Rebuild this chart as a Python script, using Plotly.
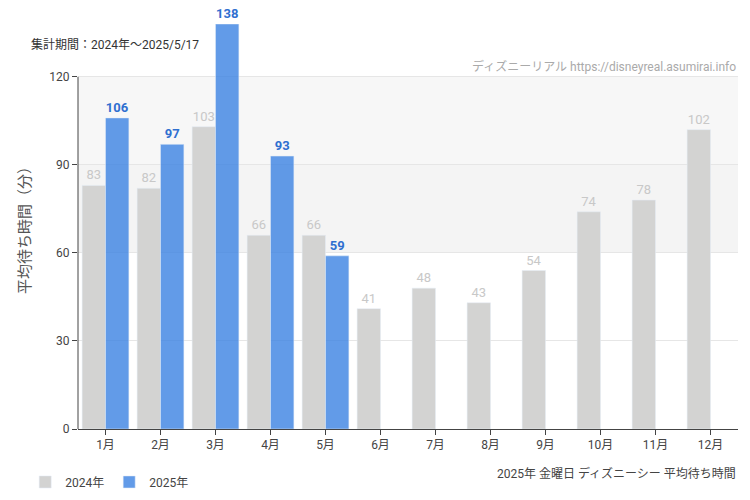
import plotly.graph_objects as go

months = ["1月","2月","3月","4月","5月","6月","7月","8月","9月","10月","11月","12月"]
y2024 = [83,82,103,66,66,41,48,43,54,74,78,102]
y2025 = [106,97,138,93,59,None,None,None,None,None,None,None]
yticks = [0,30,60,90,120]

fig = go.Figure()
fig.add_bar(x=months, y=y2024, name="2024年", marker_color="#d3d3d2",
            text=[str(v) for v in y2024], textposition="outside",
            textfont=dict(color="#c8c8c8", size=13), cliponaxis=False)
fig.add_bar(x=months, y=y2025, name="2025年", marker_color="rgba(59,130,226,0.8)",
            text=["<b>%d</b>" % v if v is not None else "" for v in y2025], textposition="outside",
            textfont=dict(color="#2f6fd0", size=13), cliponaxis=False)

fig.add_hrect(y0=60, y1=90, fillcolor="#f4f4f4", line_width=0, layer="below")
fig.add_hrect(y0=90, y1=120, fillcolor="#f7f7f7", line_width=0, layer="below")
fig.add_shape(type="line", xref="paper", x0=0, x1=0, yref="y", y0=0, y1=120,
              line=dict(color="#444", width=1))

fig.update_layout(
    width=750, height=500, barmode="group", bargap=0.15, bargroupgap=0,
    margin=dict(l=70, r=20, t=16, b=70),
    plot_bgcolor="white", paper_bgcolor="white", showlegend=True,
    font=dict(family="Roboto, Noto Sans CJK JP", color="#444", size=12),
    yaxis=dict(range=[0,138], tickvals=yticks, showgrid=True, gridcolor="#e6e6e6",
               title=dict(text="平均待ち時間（分）", font=dict(size=15, color="#555")),
               showline=False, ticks="outside", ticklen=5, zeroline=False),
    xaxis=dict(showline=True, linecolor="#444", ticks="outside", ticklen=5, showgrid=False),
    legend=dict(orientation="h", x=-0.08, y=-0.095, xanchor="left", yanchor="top",
                font=dict(size=12)),
    annotations=[
        dict(text="集計期間：2024年～2025/5/17", xref="paper", yref="paper", x=-0.075, y=0.949,
             xanchor="left", yanchor="middle", showarrow=False, font=dict(size=12, color="#333")),
        dict(text="ディズニーリアル https://disneyreal.asumirai.info", xref="paper", yref="paper",
             x=1, y=0.894, xanchor="right", yanchor="middle", showarrow=False,
             font=dict(size=12, color="#aaa")),
        dict(text="2025年 金曜日 ディズニーシー 平均待ち時間", xref="paper", yref="paper",
             x=1, y=-0.109, xanchor="right", yanchor="middle", showarrow=False,
             font=dict(size=12, color="#444")),
    ],
)
fig.write_html("out.html")
